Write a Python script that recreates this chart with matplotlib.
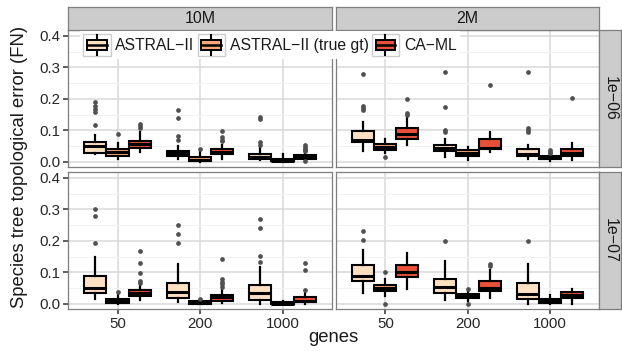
import matplotlib
matplotlib.use('Agg')
import matplotlib.pyplot as plt
from matplotlib.patches import Rectangle, Patch
from matplotlib.lines import Line2D
from matplotlib.legend_handler import HandlerBase

plt.rcParams['font.family'] = ['Liberation Sans', 'DejaVu Sans']

# ---------------- data ----------------
genes = ['50', '200', '1000']
methods = ['ASTRAL\u2212II', 'ASTRAL\u2212II (true gt)', 'CA\u2212ML']
method_colors = ['#FDE0C2', '#FBA77A', '#E9503A']
col_labels = ['10M', '2M']
row_labels = ['1e\u221206', '1e\u221207']

# each entry: [whisker_lo, q1, median, q3, whisker_hi]; order = gene x method
box_10M_e6 = [
    [0.024, 0.028, 0.049, 0.064, 0.086],
    [0.008, 0.019, 0.030, 0.039, 0.059],
    [0.030, 0.043, 0.055, 0.066, 0.093],
    [0.008, 0.019, 0.027, 0.035, 0.050],
    [0.000, 0.001, 0.005, 0.014, 0.030],
    [0.010, 0.025, 0.032, 0.040, 0.054],
    [0.004, 0.009, 0.016, 0.024, 0.045],
    [0.000, 0.001, 0.003, 0.009, 0.024],
    [0.006, 0.010, 0.014, 0.020, 0.028],
]
out_10M_e6 = [
    [0.190, 0.178, 0.167, 0.157, 0.117],
    [0.088],
    [0.121, 0.114, 0.107],
    [0.165, 0.139, 0.083, 0.068],
    [0.040],
    [0.099, 0.078, 0.070, 0.065],
    [0.141, 0.136, 0.064, 0.052],
    [],
    [0.052, 0.046, 0.041, 0.037, 0.033, 0.003],
]

box_2M_e6 = [
    [0.035, 0.063, 0.070, 0.099, 0.125],
    [0.028, 0.038, 0.047, 0.056, 0.072],
    [0.054, 0.072, 0.089, 0.106, 0.140],
    [0.015, 0.033, 0.043, 0.054, 0.072],
    [0.005, 0.019, 0.028, 0.036, 0.047],
    [0.031, 0.040, 0.045, 0.073, 0.094],
    [0.009, 0.019, 0.024, 0.040, 0.054],
    [0.003, 0.008, 0.013, 0.019, 0.022],
    [0.005, 0.019, 0.027, 0.039, 0.059],
]
out_2M_e6 = [
    [0.279, 0.176, 0.170, 0.165],
    [0.014],
    [0.199, 0.155, 0.149],
    [0.284, 0.174, 0.100, 0.095],
    [],
    [0.244],
    [0.284, 0.107, 0.100, 0.093],
    [0.038, 0.032, 0.027],
    [0.204],
]

box_10M_e7 = [
    [0.015, 0.035, 0.051, 0.088, 0.149],
    [0.000, 0.003, 0.008, 0.016, 0.026],
    [0.012, 0.023, 0.033, 0.042, 0.055],
    [0.006, 0.018, 0.036, 0.066, 0.126],
    [0.000, 0.000, 0.002, 0.008, 0.012],
    [0.002, 0.010, 0.020, 0.027, 0.045],
    [0.000, 0.013, 0.035, 0.060, 0.117],
    [0.000, 0.000, 0.000, 0.004, 0.008],
    [0.000, 0.004, 0.010, 0.020, 0.040],
]
out_10M_e7 = [
    [0.300, 0.278, 0.193],
    [0.036],
    [0.168, 0.128, 0.098, 0.071, 0.066],
    [0.249, 0.223, 0.193],
    [0.016],
    [0.142, 0.077, 0.070, 0.062, 0.053],
    [0.268, 0.242, 0.152, 0.131],
    [],
    [0.128, 0.106, 0.045],
]

box_2M_e7 = [
    [0.033, 0.072, 0.087, 0.122, 0.171],
    [0.023, 0.040, 0.051, 0.060, 0.080],
    [0.047, 0.085, 0.100, 0.122, 0.160],
    [0.012, 0.033, 0.053, 0.080, 0.135],
    [0.010, 0.017, 0.024, 0.030, 0.040],
    [0.017, 0.040, 0.051, 0.071, 0.106],
    [0.000, 0.015, 0.031, 0.065, 0.125],
    [0.000, 0.003, 0.010, 0.016, 0.028],
    [0.000, 0.018, 0.026, 0.036, 0.047],
]
out_2M_e7 = [
    [0.230, 0.201],
    [0.101, 0.000],
    [],
    [0.198],
    [0.046, 0.000],
    [0.125, 0.120],
    [0.198],
    [],
    [],
]

panels = {
    (0, 0): (box_10M_e6, out_10M_e6),
    (0, 1): (box_2M_e6, out_2M_e6),
    (1, 0): (box_10M_e7, out_10M_e7),
    (1, 1): (box_2M_e7, out_2M_e7),
}

# ---------------- layout ----------------
W, H = 622, 351
fig = plt.figure(figsize=(W / 100, H / 100), dpi=100)

def fx(px):
    return px / W

def fy(py):
    return 1 - py / H

col_x = [(68, 332), (336, 599)]
row_y = [(30, 167), (172, 309)]
strip_top = (7, 30)
strip_right = (599, 621)

GRID_MAJ = '#D9D9D9'
GRID_MIN = '#F2F2F2'
BORDER = '#7F7F7F'
STRIP_BG = '#CCCCCC'
TXT = '#1A1A1A'
TICK_TXT = '#262626'

offsets = [-0.268, 0.0, 0.268]
bw = 0.268

for (r, c), (boxes, outs) in panels.items():
    x0, x1 = col_x[c]
    y0, y1 = row_y[r]
    ax = fig.add_axes([fx(x0), fy(y1), (x1 - x0) / W, (y1 - y0) / H])
    ax.set_xlim(0.4, 3.6)
    ax.set_ylim(-0.017, 0.419)
    ax.set_yticks([0.0, 0.1, 0.2, 0.3, 0.4])
    ax.set_yticks([0.05, 0.15, 0.25, 0.35], minor=True)
    ax.set_xticks([1, 2, 3])
    ax.set_xticklabels(genes)
    ax.set_yticklabels(['0.0', '0.1', '0.2', '0.3', '0.4'])
    ax.grid(which='minor', axis='y', color=GRID_MIN, lw=0.7)
    ax.grid(which='major', color=GRID_MAJ, lw=1.1)
    ax.set_axisbelow(True)
    for sp in ax.spines.values():
        sp.set_color(BORDER)
        sp.set_linewidth(0.9)
    ax.tick_params(which='minor', length=0)
    ax.tick_params(axis='both', which='major', length=3.5, width=1.1,
                   color='#333333', labelsize=10.8, labelcolor=TICK_TXT, pad=2)
    if c != 0:
        ax.tick_params(axis='y', which='major', length=0, labelleft=False)
    if r != 1:
        ax.tick_params(axis='x', which='major', length=0, labelbottom=False)

    for gi in range(len(genes)):
        for mi in range(len(methods)):
            k = gi * 3 + mi
            wl, q1, med, q3, wh = boxes[k]
            st = [dict(med=med, q1=q1, q3=q3, whislo=wl, whishi=wh, fliers=outs[k])]
            ax.bxp(st, positions=[gi + 1 + offsets[mi]], widths=bw,
                   patch_artist=True, showcaps=False, manage_ticks=False,
                   boxprops=dict(facecolor=method_colors[mi], edgecolor='black', linewidth=1.5),
                   medianprops=dict(color='black', linewidth=2.2, solid_capstyle='butt'),
                   whiskerprops=dict(color='black', linewidth=1.6),
                   flierprops=dict(marker='o', markerfacecolor='#505050',
                                   markeredgecolor='none', markersize=3.4))

# strips
for c in range(2):
    x0, x1 = col_x[c]
    sax = fig.add_axes([fx(x0), fy(strip_top[1]), (x1 - x0) / W, (strip_top[1] - strip_top[0]) / H])
    sax.set_facecolor(STRIP_BG)
    sax.set_xticks([]); sax.set_yticks([])
    for sp in sax.spines.values():
        sp.set_color(BORDER); sp.set_linewidth(0.9)
    sax.text(0.5, 0.5, col_labels[c], ha='center', va='center', fontsize=11.5, color=TXT,
             transform=sax.transAxes)
for r in range(2):
    y0, y1 = row_y[r]
    sax = fig.add_axes([fx(strip_right[0]), fy(y1), (strip_right[1] - strip_right[0]) / W, (y1 - y0) / H])
    sax.set_facecolor(STRIP_BG)
    sax.set_xticks([]); sax.set_yticks([])
    for sp in sax.spines.values():
        sp.set_color(BORDER); sp.set_linewidth(0.9)
    sax.text(0.5, 0.5, row_labels[r], ha='center', va='center', fontsize=11.5, color=TXT,
             rotation=-90, transform=sax.transAxes)

fig.text(fx(20), fy(167), 'Species tree topological error (FN)', rotation=90,
         ha='center', va='center', fontsize=13.3, color=TXT)
fig.text(fx(333), fy(338), 'genes', ha='center', va='center', fontsize=13.3, color=TXT)


# legend
class BoxKeyHandler(HandlerBase):
    def create_artists(self, legend, orig_handle, xdescent, ydescent, width, height,
                       fontsize, trans):
        x0, y0 = -xdescent, -ydescent
        bg = Rectangle((x0, y0), width, height, facecolor='white', edgecolor='#CCCCCC',
                       lw=1.0, transform=trans)
        bwid = width * 0.72
        bh = height * 0.5
        bx = x0 + (width - bwid) / 2
        by = y0 + (height - bh) / 2
        cx = x0 + width / 2
        box = Rectangle((bx, by), bwid, bh, facecolor=orig_handle.get_facecolor(),
                        edgecolor='black', lw=1.4, transform=trans)
        med = Line2D([bx, bx + bwid], [y0 + height / 2] * 2, color='black', lw=1.8,
                     transform=trans)
        w1 = Line2D([cx, cx], [y0 + height * 0.06, by], color='black', lw=1.5, transform=trans)
        w2 = Line2D([cx, cx], [by + bh, y0 + height * 0.94], color='black', lw=1.5, transform=trans)
        return [bg, w1, w2, box, med]


handles = [Patch(facecolor=col) for col in method_colors]
handler = BoxKeyHandler()
leg = fig.legend(handles, methods, loc='upper left', bbox_to_anchor=(fx(80), fy(31)),
                 ncol=3, handler_map={h: handler for h in handles},
                 fontsize=11.3, handlelength=1.75, handleheight=1.75,
                 handletextpad=0.3, columnspacing=0.2, borderpad=0.2,
                 frameon=True, fancybox=False, borderaxespad=0)
leg.get_frame().set_facecolor('white')
leg.get_frame().set_edgecolor('none')
leg.get_frame().set_alpha(1)
for t in leg.get_texts():
    t.set_color(TXT)

fig.savefig('out.png', dpi=100)
